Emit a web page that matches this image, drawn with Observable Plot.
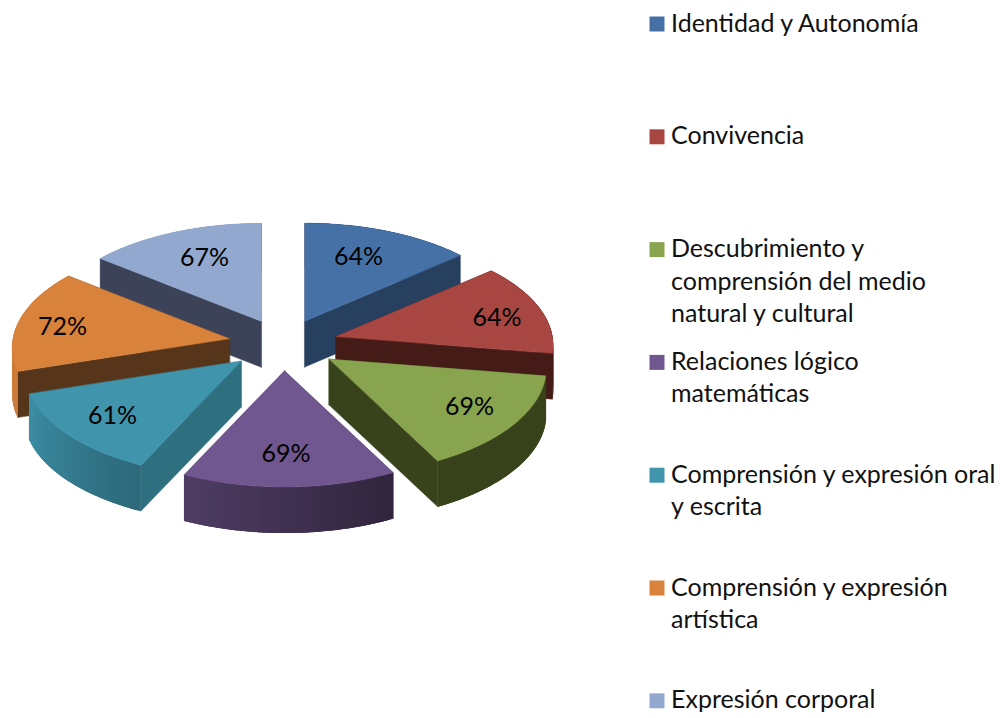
<!DOCTYPE html>
<html><head><meta charset="utf-8">
<script src="https://cdn.jsdelivr.net/npm/d3@7"></script>
<script src="https://cdn.jsdelivr.net/npm/@observablehq/plot@0.6"></script>
<style>html,body{margin:0;padding:0;background:#fff}svg{display:block}</style>
</head><body><div id="chart"></div>
<script>
const categories = ["Identidad y Autonomía","Convivencia","Descubrimiento y\ncomprensión del medio\nnatural y cultural","Relaciones lógico\nmatemáticas","Comprensión y expresión oral\ny escrita","Comprensión y expresión\nartística","Expresión corporal"];
const values = [64,64,69,69,61,72,67];
const topColors = ["#4571a6","#a84642","#88a44e","#71578f","#4095ad","#d8823c","#93a8cf"];
const wallColors = ["#274060","#451b18","#38431c","#3a2b4c","#2f7080","#56351a","#3c4358"];

// projection of the tilted, exploded pie (fitted to the picture)
const W = 1006, H = 718, FONT = "Lato, 'Open Sans', sans-serif";
const cx = 283, cy = 340, rx = 216.5, ry = 107, persp = 0.085, depth = 46, ex = 56, ey = 26;
const rad = d => d * Math.PI / 180;
const angle = d3.scaleLinear().domain([0, d3.sum(values)]).range([0, 360]);
const cum = d3.cumsum(values);
const slices = values.map((v, i) => ({i, v, a0: angle(cum[i] - v), a1: angle(cum[i]), mid: angle(cum[i] - v / 2)}));
function tip(s) {
  const m = rad(s.mid), sm = Math.sin(m), cm = Math.cos(m);
  return [cx + ex * sm * (1 - 0.1 * Math.max(cm, 0)), cy - ey * cm * (1 - 0.17 * cm) + 3 * sm * sm];
}
function rim(s, a) {
  const t = tip(s), r = rad(a), k = 1 - persp * Math.cos(r);
  return [t[0] + rx * Math.sin(r) * k, t[1] - ry * Math.cos(r) * k];
}
const down = ([x, y]) => [x, y + depth];
const shade = d3.scaleLinear().domain([0, 152, 205, 252, 360]).range([0.42, 0.42, 0.7, 0.95, 0.95]);
const polys = [];
let pid = 0;
function addPoly(pts, color, edge) {
  const id = pid++;
  for (const [x, y] of pts) polys.push({id, x, y, color, edge});
}
function steps(a0, a1, n) { return d3.range(n + 1).map(j => a0 + (a1 - a0) * j / n); }
// painter's order: back slices first
for (const i of [0, 6, 1, 5, 2, 4, 3]) {
  const s = slices[i], t = tip(s), wall = wallColors[i], base = topColors[i];
  const as = steps(s.a0, s.a1, 60);
  const facet = (a, b) => {
    const e = Math.min(b + 1.5, s.a1), p = rim(s, a), q = rim(s, e);
    const c = i <= 2 ? wall : d3.interpolateRgb("#000", base)(shade((a + b) / 2));
    addPoly([p, q, down(q), down(p)], c, "none");
  };
  const pairs = d3.pairs(as);
  // back-facing part of the outer wall
  pairs.filter(([a, b]) => Math.cos(rad((a + b) / 2)) > 0).forEach(([a, b]) => facet(a, b));
  // radial walls: the one turned away first, the visible one after it
  const visibleIsStart = Math.sin(rad(s.mid)) < 0;
  for (const a of visibleIsStart ? [s.a1, s.a0] : [s.a0, s.a1]) {
    const p = rim(s, a);
    addPoly([t, p, down(p), down(t)], wall, wall);
  }
  // front-facing part of the outer wall
  pairs.filter(([a, b]) => Math.cos(rad((a + b) / 2)) <= 0).forEach(([a, b]) => facet(a, b));
  // top face
  addPoly([t, ...as.map(a => rim(s, a))], base, base);
}
const labels = slices.map(s => {
  const t = tip(s), m = rad(s.mid), sn = Math.sin(m), cs = Math.cos(m), k = 1 - persp * cs;
  return {
    x: t[0] + 0.8 * rx * k * Math.sign(sn) * Math.pow(Math.abs(sn), 1.25),
    y: t[1] - 0.72 * ry * k * cs + 2 * sn * sn,
    text: values[s.i] + "%"
  };
});
const legend = categories.map((c, i) => ({c, color: topColors[i], y: 23.5 + 112.8 * i}));

const chart = Plot.plot({
  width: W, height: H, margin: 0,
  x: {domain: [0, W], range: [0, W], axis: null},
  y: {domain: [0, H], range: [0, H], axis: null},
  color: {type: "identity"},
  marks: [
    Plot.line(polys, {x: "x", y: "y", z: "id", fill: "color", stroke: "edge", strokeWidth: 0.4, curve: "linear-closed"}),
    Plot.text(labels, {x: "x", y: "y", text: "text", fontSize: 25, fontFamily: FONT, fill: "#000"}),
    Plot.dot(legend, {x: 656.5, y: "y", r: 8.46, symbol: "square", fill: "color", stroke: "none"}),
    Plot.text(legend, {x: 670.5, y: d => d.y - 15.5, text: "c", textAnchor: "start", lineAnchor: "top", lineHeight: 1.3, fontSize: 25, fontFamily: FONT, fill: "#111"})
  ]
});
document.getElementById("chart").append(chart);
</script></body></html>
